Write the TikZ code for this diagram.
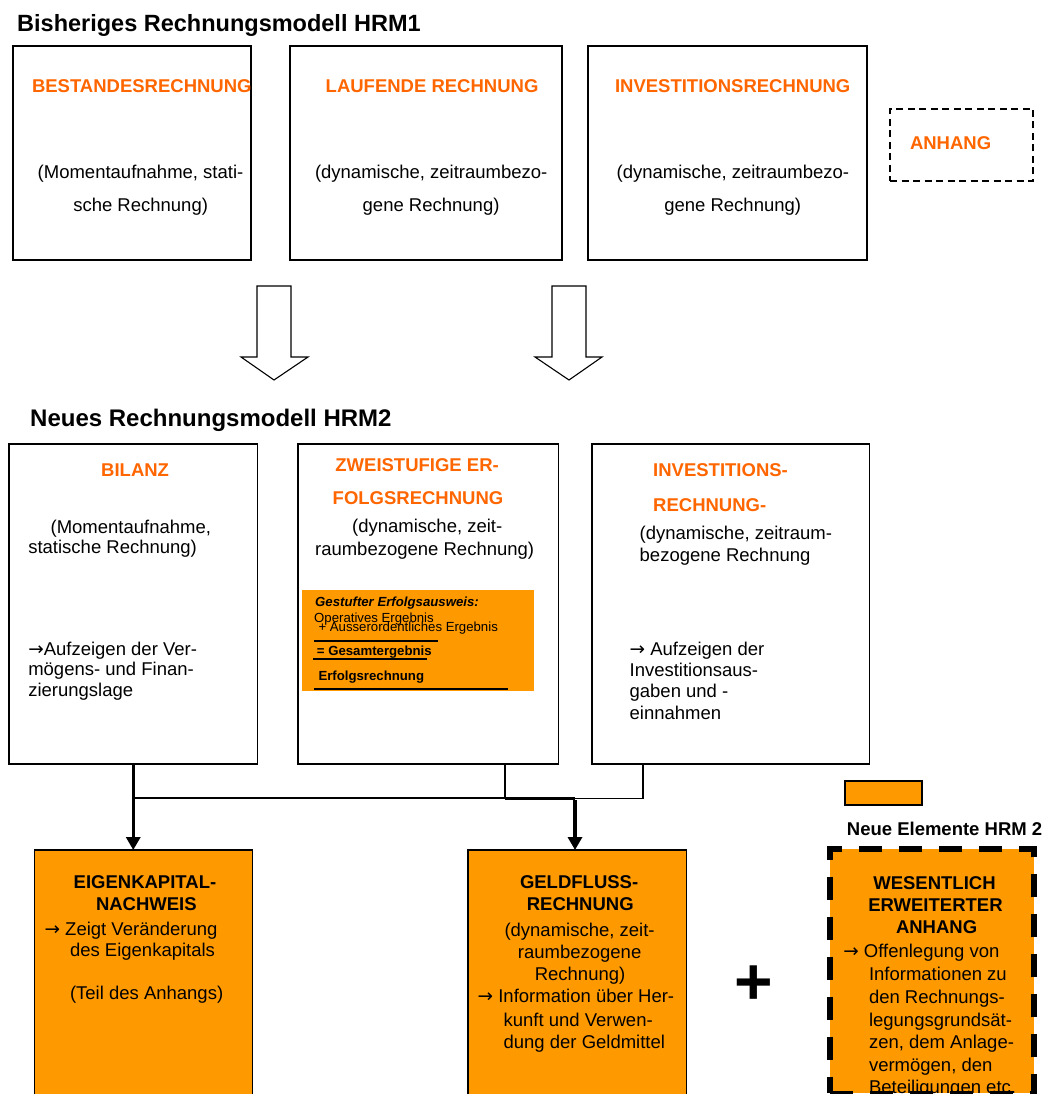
\documentclass[tikz,border=0pt]{standalone}
\usepackage{fontspec}
\setmainfont{Liberation Sans}
\newfontfamily\arrowfont{DejaVu Sans}
\usetikzlibrary{arrows.meta}
\definecolor{hrmtxt}{HTML}{FF6600}
\definecolor{hrmfill}{HTML}{FF9900}
\newcommand{\rarr}{{\arrowfont →}}
\tikzset{
  box/.style={draw, line width=1.3pt, fill=white, anchor=north west, outer sep=0pt, inner sep=0pt},
  obox/.style={box, fill=hrmfill},
  t/.style={anchor=base west, inner sep=0pt, outer sep=0pt, font=\fontsize{18.5}{22}\selectfont},
  tb/.style={t, font=\bfseries\fontsize{18.5}{22}\selectfont},
  th/.style={tb, text=hrmtxt},
  ttl/.style={anchor=base west, inner sep=0pt, font=\bfseries\fontsize{23.5}{28}\selectfont},
  ts/.style={anchor=base west, inner sep=0pt, font=\fontsize{13.2}{15}\selectfont},
  tsb/.style={ts, font=\bfseries\fontsize{13.2}{15}\selectfont},
  tsbi/.style={ts, font=\bfseries\itshape\fontsize{13.2}{15}\selectfont},
  blockarrow/.style={draw, line width=1.1pt, fill=white, line join=miter},
  thinconn/.style={line width=1.2pt},
  midconn/.style={line width=2.2pt},
  heavyconn/.style={line width=3.5pt},
  heavyarrow/.style={line width=3.5pt, -{Triangle[length=13pt,width=14pt]}},
  uline/.style={line width=1.7pt},
}
\begin{document}
\begin{tikzpicture}[x=1pt,y=-1pt]
\useasboundingbox (0,0) rectangle (1058,1094);
\fill[white] (0,0) rectangle (1058,1094);
\clip (0,0) rectangle (1058,1094);

% ---------- HRM1 ----------
\node[ttl] (title1) at (17,31.7) {Bisheriges Rechnungsmodell HRM1};

\node[box, minimum width=238, minimum height=214] (t1) at (13,46) {};
\node[box, minimum width=272, minimum height=214] (t2) at (290,46) {};
\node[box, minimum width=279, minimum height=214] (t3) at (588,46) {};
\node[box, fill=none, dash pattern=on 7pt off 4.5pt, line width=1.6pt, minimum width=143, minimum height=72] (anh) at (890,109) {};

\node[th] (t1h) at (32,92.3) {BESTANDESRECHNUNG};
\node[t] (t1a) at (37.7,178.3) {(Momentaufnahme, stati-};
\node[t] (t1b) at (73.3,211.7) {sche Rechnung)};

\node[th] (t2h) at (325.7,92.3) {LAUFENDE RECHNUNG};
\node[t] (t2a) at (315,178.3) {(dynamische, zeitraumbezo-};
\node[t] (t2b) at (362.7,211.7) {gene Rechnung)};

\node[th] (t3h) at (615,92.3) {INVESTITIONSRECHNUNG};
\node[t] (t3a) at (616.7,178.3) {(dynamische, zeitraumbezo-};
\node[t] (t3b) at (664.3,211.7) {gene Rechnung)};

\node[th] (anht) at (910,150) {ANHANG};

% block arrows
\draw[blockarrow] (257,286) -- (291,286) -- (291,357) -- (308,357) -- (274,380) -- (241,357) -- (257,357) -- cycle;
\draw[blockarrow] (552,286) -- (586,286) -- (586,357) -- (602,357) -- (569,380) -- (535,357) -- (552,357) -- cycle;

% ---------- HRM2 ----------
\node[ttl, font=\bfseries\fontsize{24}{28}\selectfont] (title2) at (30,426.7) {Neues Rechnungsmodell HRM2};

\node[box, minimum width=248.5, minimum height=320] (l1) at (9,444) {};
\node[box, minimum width=260.8, minimum height=320] (l2) at (298,444) {};
\node[box, minimum width=277.3, minimum height=320] (l3) at (592,444) {};

\node[th] (l1h) at (101.2,476) {BILANZ};
\node[t] (l1a) at (50.6,533.3) {(Momentaufnahme,};
\node[t] (l1b) at (28.3,553.3) {statische Rechnung)};
\node[t] (l1c) at (28.3,655.7) {\rarr Aufzeigen der Ver-};
\node[t] (l1d) at (28.3,675.7) {mögens- und Finan-};
\node[t] (l1e) at (28.3,696.7) {zierungslage};

\node[th] (l2h) at (335.4,471) {ZWEISTUFIGE ER-};
\node[th] (l2i) at (332.7,504.3) {FOLGSRECHNUNG};
\node[t] (l2a) at (352.2,532.7) {(dynamische, zeit-};
\node[t] (l2b) at (315.1,555.7) {raumbezogene Rechnung)};

% inset
\fill[hrmfill] (302.3,590) rectangle (533.7,690.7);
\node[tsbi] (ins1) at (315,606.7) {Gestufter Erfolgsausweis:};
\node[ts] (ins2) at (314,622.3) {Operatives Ergebnis};
\node[ts] (ins3) at (318.3,631.7) {+ Ausserordentliches Ergebnis};
\draw[uline] (314,640.7) -- (437.7,640.7);
\node[tsb] (ins4) at (316.7,655) {= Gesamtergebnis};
\draw[uline] (313,659) -- (426.7,659);
\node[tsb] (ins5) at (318.3,680) {Erfolgsrechnung};
\draw[uline] (314,689.3) -- (507.7,689.3);

\node[th] (l3h) at (653.2,476) {INVESTITIONS-};
\node[th] (l3i) at (653.2,511) {RECHNUNG-};
\node[t] (l3a) at (639.7,539.3) {(dynamische, zeitraum-};
\node[t] (l3b) at (639.7,561.7) {bezogene Rechnung};
\node[t] (l3c) at (629.6,655) {\rarr{} Aufzeigen der};
\node[t] (l3d) at (629.6,676) {Investitionsaus-};
\node[t] (l3e) at (629.6,697.3) {gaben und -};
\node[t] (l3f) at (629.6,719.3) {einnahmen};

% bottom boxes
\node[obox, minimum width=218.3, minimum height=270] (e1) at (34.4,850) {};
\node[obox, minimum width=218.3, minimum height=270] (g1) at (467.9,850) {};

\node[tb] (e1h) at (73.7,888.3) {EIGENKAPITAL-};
\node[tb] (e1i) at (96,910.7) {NACHWEIS};
\node[t] (e1a) at (44.6,935) {\rarr{} Zeigt Veränderung};
\node[t] (e1b) at (70,956.7) {des Eigenkapitals};
\node[t] (e1c) at (70,999) {(Teil des Anhangs)};

\node[tb] (g1h) at (520,888.3) {GELDFLUSS-};
\node[tb] (g1i) at (526.8,910.7) {RECHNUNG};
\node[t] (g1a) at (504.5,936) {(dynamische, zeit-};
\node[t] (g1b) at (517.9,958.3) {raumbezogene};
\node[t] (g1c) at (534.8,980) {Rechnung)};
\node[t] (g1d) at (477.7,1002.7) {\rarr{} Information über Her-};
\node[t] (g1e) at (503.6,1026.7) {kunft und Verwen-};
\node[t] (g1f) at (503.6,1048.3) {dung der Geldmittel};

% plus
\node[inner sep=0pt, font=\bfseries\fontsize{66}{70}\selectfont] (plus) at (753.7,985.3) {+};

% legend
\node[obox, line width=1.3pt, minimum width=77, minimum height=24] (leg) at (845,781) {};
\node[anchor=base west, inner sep=0pt, font=\bfseries\fontsize{18.5}{22}\selectfont] (legt) at (846.7,835) {Neue Elemente HRM 2};

% new appendix box
\node[obox, line width=5.5pt, dash pattern=on 23pt off 17pt, minimum width=204, minimum height=244.3] (w) at (830,849) {};
\node[tb] (wh) at (873.3,889) {WESENTLICH};
\node[tb] (wi) at (868.3,911.7) {ERWEITERTER};
\node[tb] (wj) at (896,933.3) {ANHANG};
\node[t] (wa) at (843.3,957.3) {\rarr{} Offenlegung von};
\node[t] (wb) at (869,980.7) {Informationen zu};
\node[t] (wc) at (869,1003.3) {den Rechnungs-};
\node[t] (wd) at (869,1026) {legungsgrundsät-};
\node[t] (we) at (869,1048.3) {zen, dem Anlage-};
\node[t] (wf) at (869,1071) {vermögen, den};
\node[t] (wg) at (869,1093.7) {Beteiligungen etc.};

% connectors
\coordinate (hy) at (0,798.3);
\coordinate (s2) at (505,0);
\coordinate (s3) at (643,0);
\coordinate (s4) at (575,0);
\draw[heavyarrow] (l1.south) -- (l1.south |- e1.north);
\draw[midconn] (l1.south |- hy) -- (s2 |- hy);
\draw[thinconn] (s2 |- l2.south) -- (s2 |- hy);
\draw[thinconn] (s3 |- l3.south) -- (s3 |- hy) -- (s4 |- hy);
\draw[heavyconn] (s2 |- hy) -- (s4 |- hy);
\draw[heavyarrow] ([yshift=-1.75pt]s4 |- hy) -- (s4 |- g1.north);
\end{tikzpicture}
\end{document}
